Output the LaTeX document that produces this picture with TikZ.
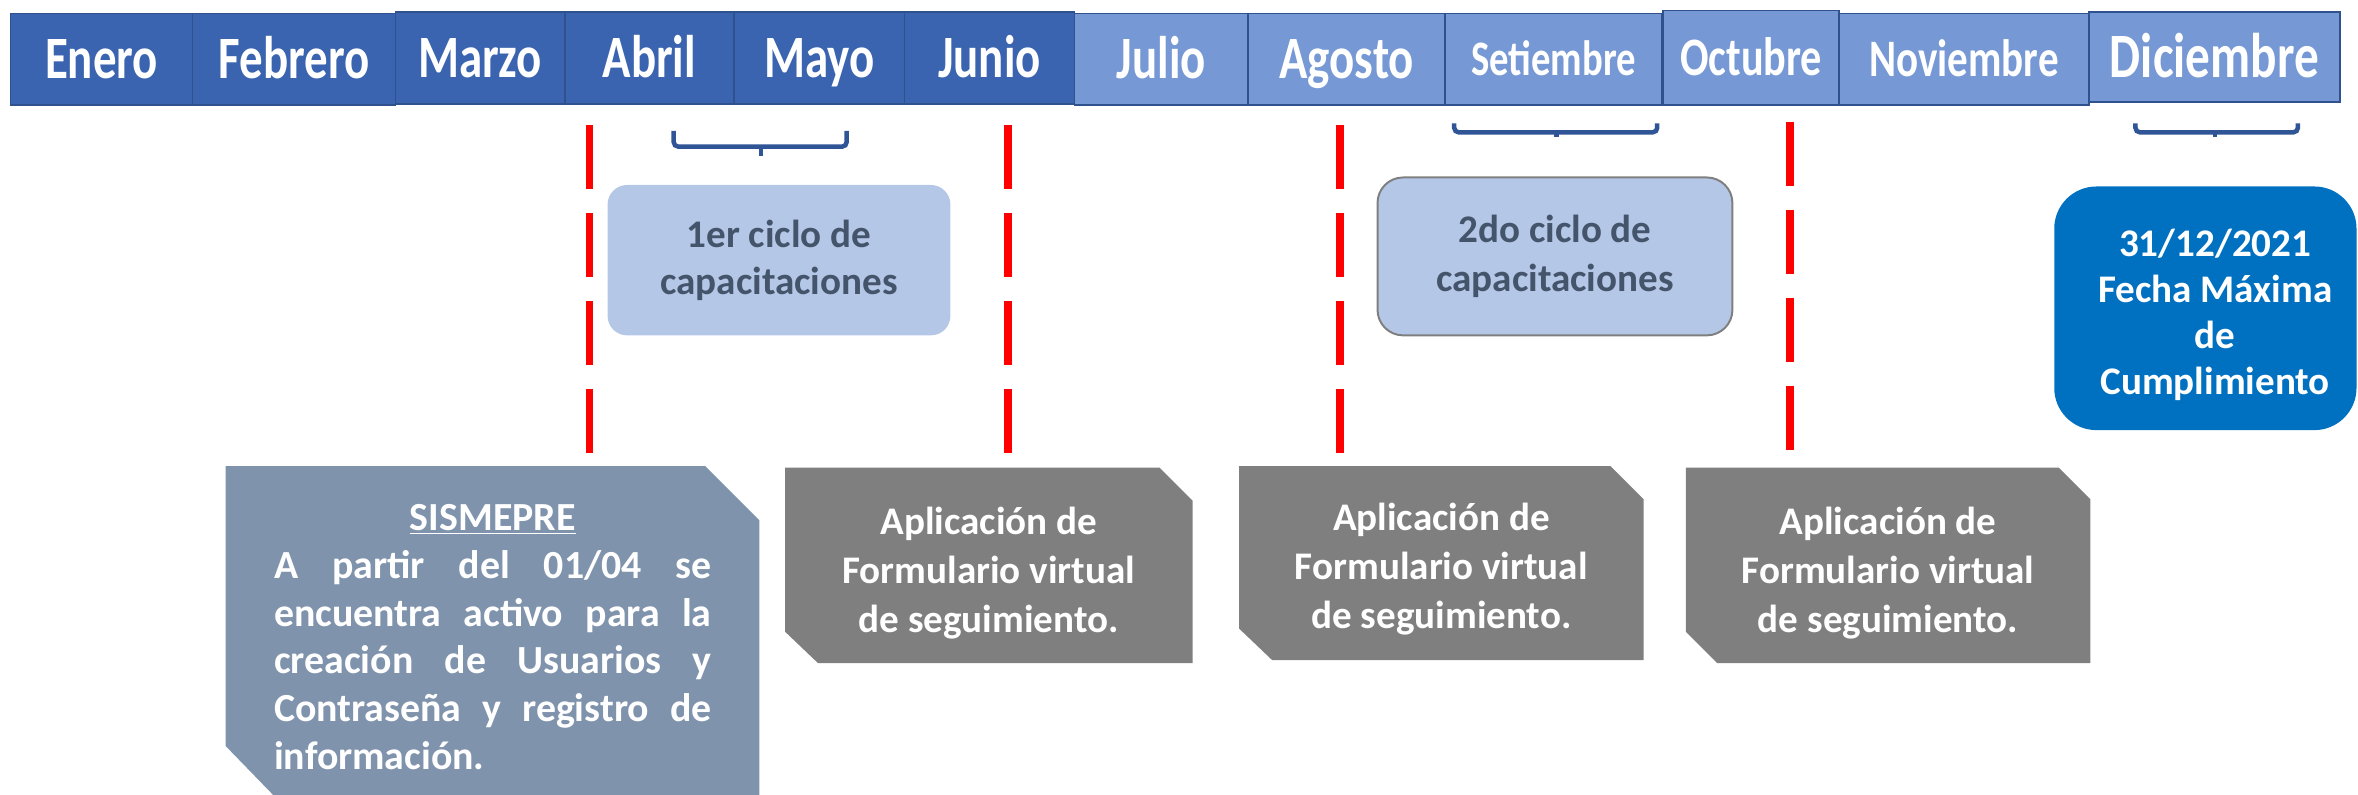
\documentclass[tikz,border=0pt]{standalone}
\usepackage{fontspec}
\setmainfont{Carlito}
\newfontfamily\hdrfont{Carlito}[FakeStretch=0.78]
\definecolor{mdk}{HTML}{3A64B0}
\definecolor{mlt}{HTML}{7698D4}
\definecolor{mbd}{HTML}{2F528F}
\definecolor{brc}{HTML}{2F5597}
\definecolor{cycfill}{HTML}{B4C7E7}
\definecolor{cyctext}{HTML}{44546A}
\definecolor{gbox}{HTML}{7F7F7F}
\definecolor{sisbox}{HTML}{8093AD}
\definecolor{dlfill}{HTML}{0070C0}
\definecolor{redline}{HTML}{FF0000}
\begin{document}
\begin{tikzpicture}[x=1pt,y=-1pt,
  mon/.style={draw=mbd, line width=1.2pt, inner sep=0pt, text=white,
    font=\hdrfont\bfseries\fontsize{40}{40}\selectfont, text height=25.8pt, text depth=0pt},
  brace/.style={draw=brc, line width=3pt, rounded corners=3pt},
  redd/.style={draw=redline, line width=5.3pt, dash pattern=on 42.5pt off 16pt},
  cyc/.style={fill=cycfill, rounded corners=13pt, inner sep=0pt, text=cyctext, align=center,
    font=\bfseries\fontsize{26}{31.5}\selectfont},
  snip/.style={fill=gbox},
  gtext/.style={text=white, align=center, inner sep=0pt, font=\bfseries\fontsize{26}{32.5}\selectfont}
]
\useasboundingbox (0,0) rectangle (1568,528);

% header
\node[mon,fill=mdk,minimum width=121,minimum height=61] (ene) at (67.5,39.5) {Enero};
\node[mon,fill=mdk,minimum width=135,minimum height=61] (feb) at (195.5,39.5) {Febrero};
\node[mon,fill=mdk,minimum width=112.5,minimum height=61] (mar) at (319.25,38.5) {Marzo};
\node[mon,fill=mdk,minimum width=112.5,minimum height=61] (abr) at (431.75,38.5) {Abril};
\node[mon,fill=mdk,minimum width=113.5,minimum height=61] (may) at (544.75,38.5) {Mayo};
\node[mon,fill=mdk,minimum width=113,minimum height=61] (jun) at (658,38.5) {Junio};
\node[mon,fill=mlt,minimum width=115.5,minimum height=61] (jul) at (772.25,39.5) {Julio};
\node[mon,fill=mlt,minimum width=131,minimum height=61] (ago) at (895.5,39.5) {Agosto};
\node[mon,fill=mlt,minimum width=144,minimum height=61,
  font=\hdrfont\bfseries\fontsize{33}{33}\selectfont, text height=21.3pt] (set) at (1033,39.5) {Setiembre};
\node[mon,fill=mlt,minimum width=166,minimum height=61,
  font=\hdrfont\bfseries\fontsize{35}{35}\selectfont, text height=22.5pt] (nov) at (1306,39.5) {Noviembre};
\node[mon,fill=mlt,minimum width=117,minimum height=63,
  font=\hdrfont\bfseries\fontsize{36}{36}\selectfont, text height=23.2pt] (oct) at (1164.5,38.5) {Octubre};
\node[mon,fill=mlt,minimum width=167,minimum height=60,
  font=\hdrfont\bfseries\fontsize{42}{42}\selectfont, text height=27pt] (dic) at (1472.5,38) {Diciembre};

% braces
\draw[brace] (448,87) -- (448,97.5) -- (563,97.5) -- (563,87);
\draw[draw=brc, line width=3pt] (506,97.5) -- (506,104);
\draw[brace] (967,82) -- (967,88) -- (1102,88) -- (1102,82);
\draw[draw=brc, line width=3pt] (1035,88) -- (1035,91);
\draw[brace] (1420,82) -- (1420,88) -- (1528,88) -- (1528,82);
\draw[draw=brc, line width=3pt] (1473,88) -- (1473,91);

% red dashed lines
\draw[redd] (392,83) -- (392,301);
\draw[redd] (670,83) -- (670,301);
\draw[redd] (891,83) -- (891,301);
\draw[redd] (1190,81) -- (1190,301);

% training cycles
\node[cyc, minimum width=228, minimum height=100] (c1) at (518,173) {1er ciclo de\\capacitaciones};
\node[cyc, draw=gbox, line width=1.3pt, rounded corners=17pt, minimum width=236, minimum height=105,
  font=\bfseries\fontsize{26}{32.5}\selectfont] (c2) at (1034,170.5) {2do ciclo de\\capacitaciones};

% deadline
\node[fill=dlfill, rounded corners=28pt, minimum width=201, minimum height=162, inner sep=0pt] (dl) at (1466.5,205) {};
\node[text=white, align=center, inner sep=0pt, font=\bfseries\fontsize{26}{30.5}\selectfont] (dlt) at (1473,209.5) {31/12/2021\\Fecha Máxima\\de\\Cumplimiento};

% SISMEPRE box
\fill[sisbox] (150,310) -- (469,310) -- (505,346) -- (505,529) -- (182,529) -- (150,496) -- cycle;
\node[anchor=north west, text width=291pt, inner sep=0pt, align=justify, text=white,
  font=\bfseries\fontsize{26.5}{31.7}\selectfont] (sist) at (182,321)
  {\hbadness=10000\par\centerline{\underline{SISMEPRE}}\noindent A partir del 01/04 se\linebreak encuentra activo para la\linebreak creación de Usuarios y\linebreak Contraseña y registro de\linebreak información.};

% gray boxes
\fill[snip] (522,311) -- (771,311) -- (793,333) -- (793,441) -- (544,441) -- (522,420) -- cycle;
\node[gtext] (ga) at (657.5,381) {Aplicación de\\Formulario virtual\\de seguimiento.};
\fill[snip] (824,310) -- (1071,310) -- (1093,332) -- (1093,439) -- (846,439) -- (824,418) -- cycle;
\node[gtext] (gb) at (958.5,378.5) {Aplicación de\\Formulario virtual\\de seguimiento.};
\fill[snip] (1121,311) -- (1369,311) -- (1390,332) -- (1390,441) -- (1142,441) -- (1121,420) -- cycle;
\node[gtext] (gc) at (1255.5,381) {Aplicación de\\Formulario virtual\\de seguimiento.};
\end{tikzpicture}
\end{document}
